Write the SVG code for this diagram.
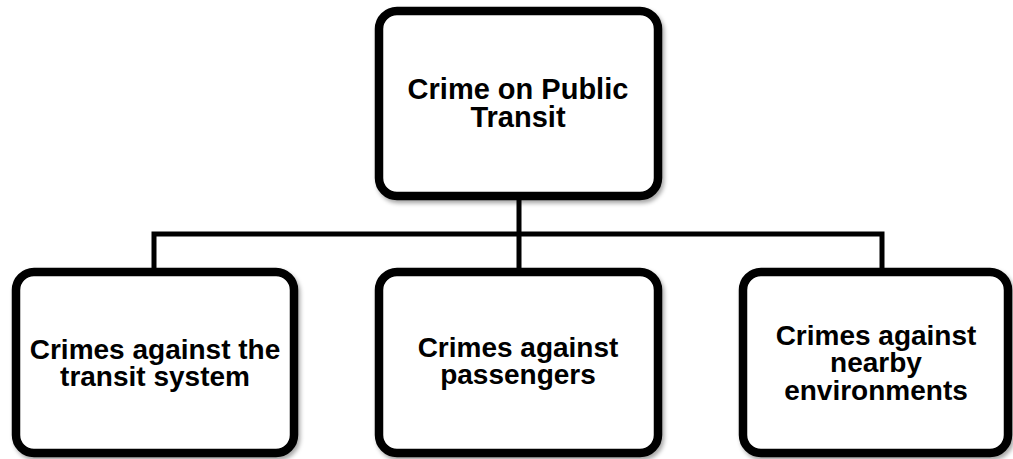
<svg xmlns="http://www.w3.org/2000/svg" width="1013" height="459" viewBox="0 0 1013 459">
<defs>
<filter id="sh" x="-10%" y="-10%" width="125%" height="125%">
<feDropShadow dx="2" dy="3" stdDeviation="2" flood-color="#000" flood-opacity="0.35"/>
</filter>
<style>
.box{fill:#fff;stroke:#000;stroke-width:8.5;filter:url(#sh)}
.t{font-family:"Liberation Sans",Arial,sans-serif;font-weight:bold;font-size:28px;fill:#000;text-anchor:middle}
.c{fill:none;stroke:#000;stroke-width:5}
</style>
</defs>
<rect width="1013" height="459" fill="#fff"/>
<g id="connectors">
<path class="c" d="M519 200V268M154 268V234H882V268"/>
</g>
<g id="root">
<rect class="box" x="379" y="11" width="279" height="185" rx="18"/>
<text class="t" x="518" y="99" style="font-size:29px">Crime on Public</text>
<text class="t" x="518" y="127" style="font-size:29px">Transit</text>
</g>
<g id="system">
<rect class="box" x="16" y="272" width="278" height="181" rx="18"/>
<text class="t" x="155" y="359">Crimes against the</text>
<text class="t" x="155" y="386">transit system</text>
</g>
<g id="passengers">
<rect class="box" x="379" y="272" width="279" height="181" rx="18"/>
<text class="t" x="518" y="357">Crimes against</text>
<text class="t" x="518" y="384">passengers</text>
</g>
<g id="environments">
<rect class="box" x="743" y="272" width="265" height="181" rx="18"/>
<text class="t" x="876" y="345">Crimes against</text>
<text class="t" x="876" y="372">nearby</text>
<text class="t" x="876" y="400">environments</text>
</g>
</svg>
